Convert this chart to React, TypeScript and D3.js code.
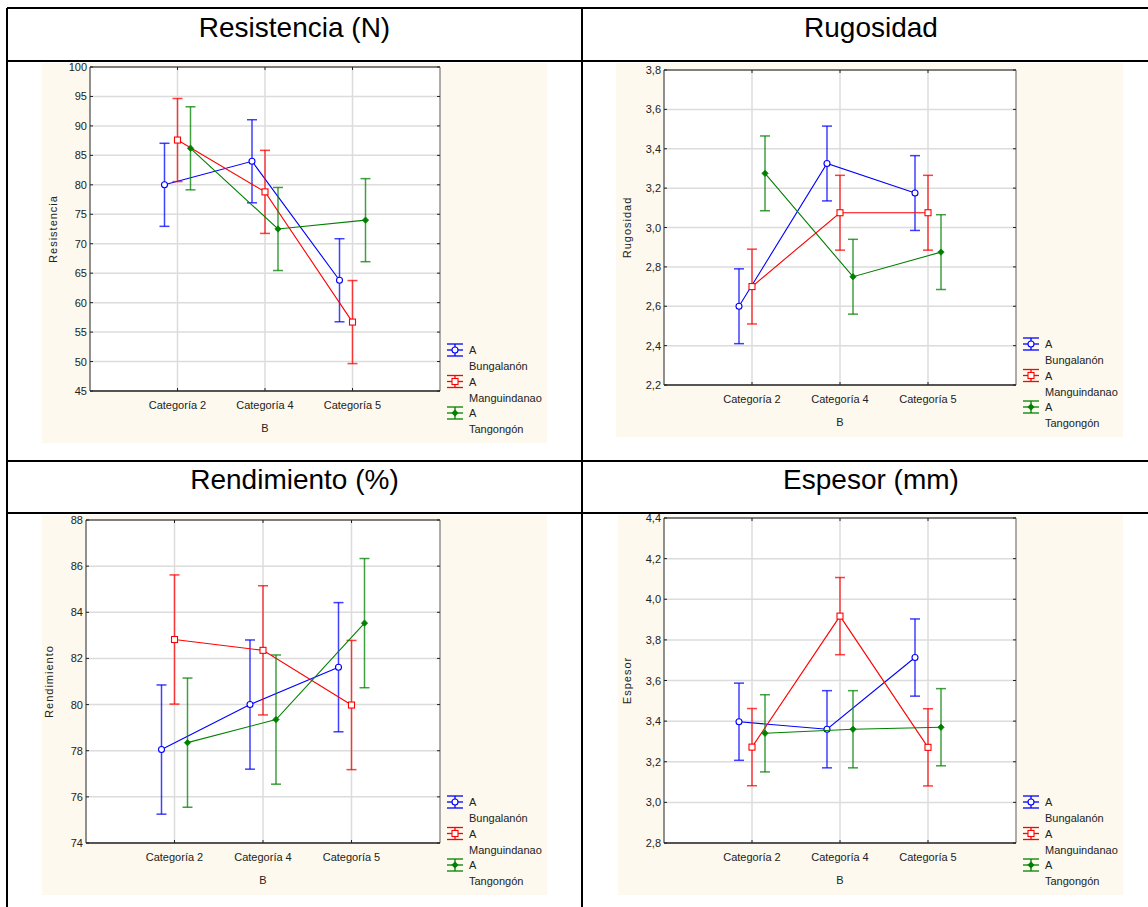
import React from "react";
import * as d3 from "d3";

const categories = ["Categoría 2", "Categoría 4", "Categoría 5"];
const seriesNames = ["Bungalanón", "Manguindanao", "Tangongón"];
const seriesColors = ["#0000ff", "#ff0000", "#008000"];

// means per series (Bungalanón, Manguindanao, Tangongón) x categories
const resistenciaMeans = [
  [80.0, 84.0, 63.8],
  [87.6, 78.8, 56.7],
  [86.2, 72.5, 74.0],
];
const resistenciaErr = 7.05;
const resistenciaTicks = [45, 50, 55, 60, 65, 70, 75, 80, 85, 90, 95, 100];

const rugosidadMeans = [
  [2.6, 3.325, 3.175],
  [2.7, 3.075, 3.075],
  [3.275, 2.75, 2.875],
];
const rugosidadErr = 0.19;
const rugosidadTicks = [2.2, 2.4, 2.6, 2.8, 3.0, 3.2, 3.4, 3.6, 3.8];

const rendimientoMeans = [
  [78.05, 80.0, 81.62],
  [82.82, 82.35, 79.98],
  [78.35, 79.35, 83.53],
];
const rendimientoErr = 2.8;
const rendimientoTicks = [74, 76, 78, 80, 82, 84, 86, 88];

const espesorMeans = [
  [3.397, 3.36, 3.713],
  [3.272, 3.917, 3.271],
  [3.34, 3.36, 3.37],
];
const espesorErr = 0.19;
const espesorTicks = [2.8, 3.0, 3.2, 3.4, 3.6, 3.8, 4.0, 4.2, 4.4];

const locale = d3.formatLocale({
  decimal: ",",
  thousands: ".",
  grouping: [3],
  currency: ["", ""],
});
const fmtInt = locale.format(".0f");
const fmtDec = locale.format(".1f");

const FONT = "'Liberation Sans', Arial, sans-serif";

const Marker = ({ i, x, y }) => {
  const c = seriesColors[i];
  if (i === 0)
    return <circle cx={x} cy={y} r={3} fill="white" stroke={c} strokeWidth={1.1} />;
  if (i === 1)
    return (
      <rect x={x - 3} y={y - 3} width={6} height={6} fill="white" stroke={c} strokeWidth={1.1} />
    );
  return (
    <path
      d={`M${x},${y - 3.2}L${x + 3.2},${y}L${x},${y + 3.2}L${x - 3.2},${y}Z`}
      fill={c}
      stroke={c}
      strokeWidth={0.7}
    />
  );
};

const Panel = (props) => {
  const { plot, bg, means, err, ticks, fmt, yLabel } = props;
  const [left, top, right, bottom] = plot;

  const x = d3.scalePoint().domain(categories).range([left, right]).padding(1);
  const offset = d3.scalePoint().domain(seriesNames).range([-13, 13]);
  const y = d3
    .scaleLinear()
    .domain([ticks[0], ticks[ticks.length - 1]])
    .range([bottom, top]);

  const line = d3
    .line()
    .x((d) => d[0])
    .y((d) => d[1]);

  const legX = right + 7;
  const legY = bottom - 41;

  return (
    <g fontFamily={FONT}>
      <rect x={bg[0]} y={bg[1]} width={bg[2] - bg[0]} height={bg[3] - bg[1]} fill="#fdf9ee" />
      <rect x={left} y={top} width={right - left} height={bottom - top} fill="white" />

      {/* grid */}
      {ticks.slice(1, -1).map((t) => (
        <line key={"h" + t} x1={left} x2={right} y1={y(t)} y2={y(t)} stroke="#dcdcdc" strokeWidth={1.5} />
      ))}
      {categories.map((c) => (
        <line key={"v" + c} x1={x(c)} x2={x(c)} y1={top} y2={bottom} stroke="#dcdcdc" strokeWidth={1.5} />
      ))}

      {/* frame */}
      <line x1={left} x2={right} y1={top} y2={top} stroke="#000" strokeWidth={1} />
      <line x1={right} x2={right} y1={top} y2={bottom} stroke="#777" strokeWidth={1.2} />
      <line x1={left} x2={left} y1={top} y2={bottom} stroke="#222" strokeWidth={1} />
      <line x1={left} x2={right} y1={bottom} y2={bottom} stroke="#555" strokeWidth={2} />

      {/* ticks */}
      {ticks.map((t) => (
        <g key={"t" + t}>
          <line x1={left} x2={left + 3} y1={y(t)} y2={y(t)} stroke="#222" />
          <line x1={right - 3} x2={right} y1={y(t)} y2={y(t)} stroke="#222" />
          <text x={left - 3} y={y(t) + 4} textAnchor="end" fontSize={11} fill="#222">
            {fmt(t)}
          </text>
        </g>
      ))}
      {categories.map((c) => (
        <g key={"c" + c}>
          <line x1={x(c)} x2={x(c)} y1={top} y2={top + 3} stroke="#222" />
          <line x1={x(c)} x2={x(c)} y1={bottom - 3} y2={bottom} stroke="#222" />
          <text x={x(c)} y={bottom + 18} textAnchor="middle" fontSize={11} fill="#222">
            {c}
          </text>
        </g>
      ))}

      <text x={x(categories[1])} y={bottom + 41} textAnchor="middle" fontSize={11} fill="#222">
        B
      </text>
      <text
        transform={`translate(${left - 33},${(top + bottom) / 2}) rotate(-90)`}
        textAnchor="middle"
        fontSize={11}
        letterSpacing={1}
        fill="#222"
      >
        {yLabel}
      </text>

      {/* series */}
      {means.map((vals, i) => {
        const pts = vals.map((v, j) => [x(categories[j]) + offset(seriesNames[i]), y(v)]);
        const c = seriesColors[i];
        return (
          <g key={"s" + i}>
            <path d={line(pts)} fill="none" stroke={c} strokeWidth={1.1} />
            {vals.map((v, j) => {
              const px = pts[j][0];
              const y1 = y(v + err);
              const y2 = y(v - err);
              return (
                <g key={j} stroke={c} strokeOpacity={0.75} strokeWidth={1.5}>
                  <line x1={px} x2={px} y1={y1} y2={y2} />
                  <line x1={px - 5} x2={px + 5} y1={y1} y2={y1} />
                  <line x1={px - 5} x2={px + 5} y1={y2} y2={y2} />
                </g>
              );
            })}
            {pts.map((p, j) => (
              <Marker key={"m" + j} i={i} x={p[0]} y={p[1]} />
            ))}
          </g>
        );
      })}

      {/* legend */}
      {seriesNames.map((name, i) => {
        const cy = legY + i * 31.5;
        const c = seriesColors[i];
        return (
          <g key={"l" + i}>
            <g stroke={c} strokeWidth={1.3}>
              <line x1={legX} x2={legX + 16} y1={cy - 6} y2={cy - 6} />
              <line x1={legX} x2={legX + 16} y1={cy + 6} y2={cy + 6} />
              <line x1={legX} x2={legX + 16} y1={cy} y2={cy} />
              <line x1={legX + 8} x2={legX + 8} y1={cy - 6} y2={cy + 6} />
            </g>
            <Marker i={i} x={legX + 8} y={cy} />
            <text x={legX + 22} y={cy + 4} fontSize={11} fill="#222">
              A
            </text>
            <text x={legX + 22} y={cy + 20} fontSize={11} fill="#222">
              {name}
            </text>
          </g>
        );
      })}
    </g>
  );
};

const App = () => {
  const tableLines = [
    [7, 8, 7, 907],
    [582, 8, 582, 907],
    [7, 8, 1160, 8],
    [7, 61, 1160, 61],
    [7, 461, 1160, 461],
    [7, 513, 1160, 513],
  ];
  return (
    <svg
      width={1148}
      height={907}
      style={{ position: "absolute", left: 0, top: 0, background: "white" }}
    >
      <rect width={1148} height={907} fill="white" />
      {tableLines.map((l, k) => (
        <line key={k} x1={l[0]} y1={l[1]} x2={l[2]} y2={l[3]} stroke="#000" strokeWidth={2} />
      ))}
      <g fontFamily={FONT} fontSize={28} textAnchor="middle" fill="#000">
        <text x={294.5} y={37}>Resistencia (N)</text>
        <text x={871} y={37}>Rugosidad</text>
        <text x={294.5} y={489}>Rendimiento (%)</text>
        <text x={871} y={489}>Espesor (mm)</text>
      </g>

      <Panel
        plot={[90, 67, 440, 391]}
        bg={[42, 63, 547, 443]}
        means={resistenciaMeans}
        err={resistenciaErr}
        ticks={resistenciaTicks}
        fmt={fmtInt}
        yLabel="Resistencia"
      />
      <Panel
        plot={[664, 70, 1016, 385]}
        bg={[616, 63, 1123, 437]}
        means={rugosidadMeans}
        err={rugosidadErr}
        ticks={rugosidadTicks}
        fmt={fmtDec}
        yLabel="Rugosidad"
      />
      <Panel
        plot={[86, 520, 440, 843]}
        bg={[42, 515, 547, 895]}
        means={rendimientoMeans}
        err={rendimientoErr}
        ticks={rendimientoTicks}
        fmt={fmtInt}
        yLabel="Rendimiento"
      />
      <Panel
        plot={[664, 518, 1016, 843]}
        bg={[618, 515, 1123, 895]}
        means={espesorMeans}
        err={espesorErr}
        ticks={espesorTicks}
        fmt={fmtDec}
        yLabel="Espesor"
      />
    </svg>
  );
};

export default App;
